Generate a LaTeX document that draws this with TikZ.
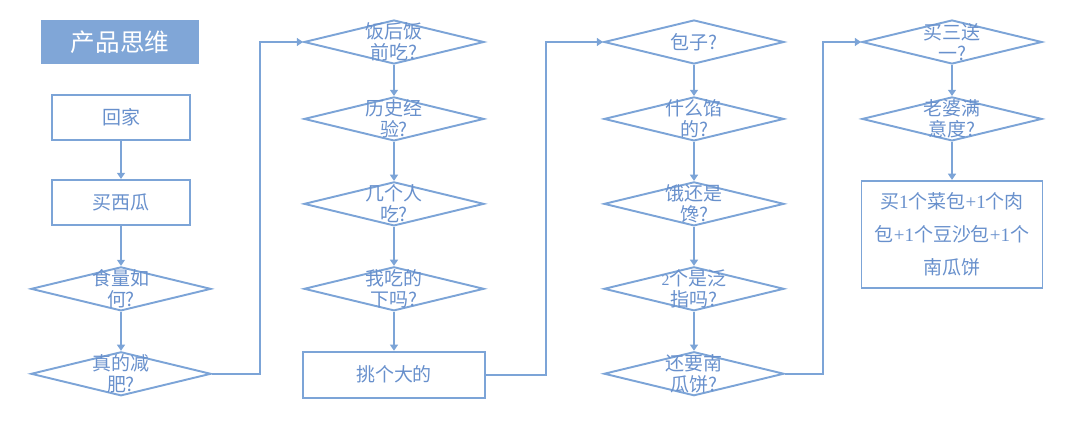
\documentclass[tikz,border=0pt]{standalone}
\usepackage{fontspec}
\setmainfont{Noto Sans CJK SC}
\newfontfamily\latinserif{Liberation Serif}
\usepackage{xcolor}
\usetikzlibrary{shapes.geometric, arrows.meta, positioning}
\definecolor{flowline}{RGB}{124,164,215}
\definecolor{flowtext}{RGB}{104,144,204}
\definecolor{headfill}{RGB}{128,166,215}
\newcommand{\dgt}[1]{{\latinserif #1}}

\begin{document}
\begin{tikzpicture}[
  basebox/.style={draw=flowline, line width=1.1pt, text=flowtext, inner sep=0pt,
                  font=\fontsize{10.8}{11.8}\selectfont, align=center},
  action/.style={basebox, rectangle, minimum width=2.76cm, minimum height=0.9cm},
  widebox/.style={action, minimum width=3.64cm, minimum height=0.92cm},
  query/.style={basebox, diamond, minimum width=3.6cm, minimum height=0.88cm},
  ask/.style={query, label={[text=flowtext, align=center,
              font=\fontsize{10.8}{11.8}\selectfont]center:#1}},
  headline/.style={rectangle, fill=headfill, text=white, minimum width=3.16cm,
                   minimum height=0.88cm, font=\fontsize{14}{16}\selectfont},
  arrow/.style={-{Triangle[length=3.5pt, width=4.5pt]}, draw=flowline, line width=1.1pt},
  node distance=0.78cm
]
\useasboundingbox (0,0) rectangle (21.6,-8.52);

\node[headline] (head) at (2.4,-0.84) {产品思维};

% column 1
\node[action] (home) at (2.42,-2.35) {回家};
\node[action, below=0.76cm of home] (melon) {买西瓜};
\node[ask={食量如\\何?}, below=0.8cm of melon] (appetite) {};
\node[ask={真的减\\肥?}, below=of appetite] (diet) {};

% column 2
\node[ask={饭后饭\\前吃?}] (timing) at (7.88,-0.84) {};
\node[ask={历史经\\验?}, below=0.62cm of timing] (history) {};
\node[ask={几个人\\吃?}, below=of history] (headcount) {};
\node[ask={我吃的\\下吗?}, below=of headcount] (capacity) {};
\node[widebox, below=of capacity] (pick) {挑个大的};

% column 3
\node[ask={包子?}] (bun) at (13.88,-0.84) {};
\node[ask={什么馅\\的?}, below=0.62cm of bun] (filling) {};
\node[ask={饿还是\\馋?}, below=of filling] (hunger) {};
\node[ask={{\small\dgt{2}}个是泛\\指吗?}, below=of hunger] (plural) {};
\node[ask={还要南\\瓜饼?}, below=of plural] (pumpkin) {};

% column 4
\node[ask={买三送\\一?}] (deal) at (19.04,-0.84) {};
\node[ask={老婆满\\意度?}, below=0.62cm of deal] (wife) {};
\node[action, minimum width=3.62cm, minimum height=2.14cm,
      font=\fontsize{10.8}{19}\selectfont, below=0.76cm of wife] (order)
  {买\dgt{1}个菜包\dgt{+1}个肉\\包\dgt{+1}个豆沙包\dgt{+1}个\\南瓜饼};

\draw[arrow] (home) -- (melon);
\draw[arrow] (melon) -- (appetite);
\draw[arrow] (appetite) -- (diet);
\draw[arrow] (diet.east) -- ++(0.96,0) |- (timing.west);
\draw[arrow] (timing) -- (history);
\draw[arrow] (history) -- (headcount);
\draw[arrow] (headcount) -- (capacity);
\draw[arrow] (capacity) -- (pick);
\draw[arrow] (pick.east) -- ++(1.2,0) |- (bun.west);
\draw[arrow] (bun) -- (filling);
\draw[arrow] (filling) -- (hunger);
\draw[arrow] (hunger) -- (plural);
\draw[arrow] (plural) -- (pumpkin);
\draw[arrow] (pumpkin.east) -- ++(0.76,0) |- (deal.west);
\draw[arrow] (deal) -- (wife);
\draw[arrow] (wife) -- (order);

\end{tikzpicture}
\end{document}
